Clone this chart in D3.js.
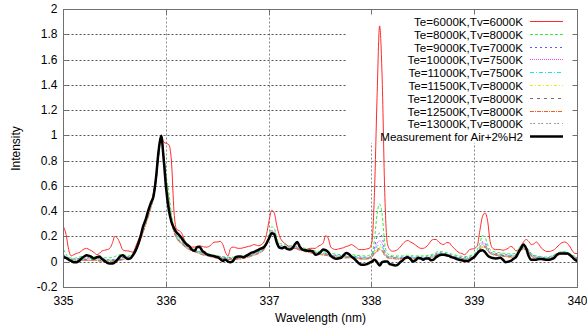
<!DOCTYPE html>
<html>
<head>
<meta charset="utf-8">
<script src="https://cdn.jsdelivr.net/npm/d3@7"></script>
<style>
  html, body { margin: 0; padding: 0; background: #fff; }
  svg { display: block; font-family: "Liberation Sans", Arial, sans-serif; }
</style>
</head>
<body>
<svg id="chart" width="587" height="329"></svg>
<script>
// measured + Te=6000K trace, sampled every 0.025 nm
const wlFine = [
  335.000,335.025,335.050,335.075,335.100,335.125,335.150,335.175,335.200,335.225,335.250,335.275,335.300,335.325,335.350,335.375,335.400,335.425,335.450,335.475,
  335.500,335.525,335.550,335.575,335.600,335.625,335.650,335.675,335.700,335.725,335.750,335.775,335.800,335.825,335.850,335.875,335.900,335.925,335.950,335.975,
  336.000,336.025,336.050,336.075,336.100,336.125,336.150,336.175,336.200,336.225,336.250,336.275,336.300,336.325,336.350,336.375,336.400,336.425,336.450,336.475,
  336.500,336.525,336.550,336.575,336.600,336.625,336.650,336.675,336.700,336.725,336.750,336.775,336.800,336.825,336.850,336.875,336.900,336.925,336.950,336.975,
  337.000,337.025,337.050,337.075,337.100,337.125,337.150,337.175,337.200,337.225,337.250,337.275,337.300,337.325,337.350,337.375,337.400,337.425,337.450,337.475,
  337.500,337.525,337.550,337.575,337.600,337.625,337.650,337.675,337.700,337.725,337.750,337.775,337.800,337.825,337.850,337.875,337.900,337.925,337.950,337.975,
  338.000,338.025,338.050,338.075,338.100,338.125,338.150,338.175,338.200,338.225,338.250,338.275,338.300,338.325,338.350,338.375,338.400,338.425,338.450,338.475,
  338.500,338.525,338.550,338.575,338.600,338.625,338.650,338.675,338.700,338.725,338.750,338.775,338.800,338.825,338.850,338.875,338.900,338.925,338.950,338.975,
  339.000,339.025,339.050,339.075,339.100,339.125,339.150,339.175,339.200,339.225,339.250,339.275,339.300,339.325,339.350,339.375,339.400,339.425,339.450,339.475,
  339.500,339.525,339.550,339.575,339.600,339.625,339.650,339.675,339.700,339.725,339.750,339.775,339.800,339.825,339.850,339.875,339.900,339.925,339.950,339.975,
  340.000
];

const measured = [
  0.04,0.035,0.02,0.01,0.0,0.0,0.01,0.03,0.045,0.055,0.05,0.04,0.03,0.04,0.045,0.025,0.01,-0.005,-0.01,-0.01,
  0.0,0.02,0.045,0.055,0.04,0.025,0.03,0.055,0.09,0.14,0.205,0.285,0.34,0.41,0.47,0.52,0.67,0.88,1.0,0.81,
  0.57,0.41,0.32,0.27,0.235,0.215,0.19,0.16,0.14,0.125,0.10,0.09,0.12,0.12,0.09,0.075,0.06,0.055,0.05,0.045,
  0.04,0.025,0.01,0.02,0.005,0.0,0.01,0.04,0.045,0.045,0.04,0.05,0.06,0.075,0.08,0.09,0.10,0.11,0.12,0.15,
  0.19,0.23,0.22,0.155,0.115,0.11,0.12,0.105,0.10,0.11,0.14,0.16,0.12,0.10,0.095,0.09,0.09,0.085,0.06,0.065,
  0.08,0.10,0.095,0.08,0.05,0.035,0.027,0.03,0.035,0.055,0.074,0.065,0.045,0.03,0.01,-0.01,-0.02,-0.02,-0.015,-0.005,
  0.005,0.02,0.0,-0.025,0.0,0.005,0.005,-0.015,-0.02,-0.025,-0.02,0.0,0.015,0.035,0.04,0.025,0.005,0.015,0.035,0.03,
  0.02,0.03,0.03,0.015,0.02,0.04,0.053,0.06,0.06,0.055,0.05,0.04,0.035,0.025,0.02,0.015,0.01,0.01,0.015,0.03,
  0.045,0.07,0.09,0.095,0.08,0.055,0.04,0.033,0.03,0.032,0.035,0.02,0.0,0.005,0.01,0.025,0.04,0.075,0.11,0.14,
  0.11,0.05,0.02,0.02,0.02,0.025,0.025,0.022,0.02,0.02,0.025,0.035,0.06,0.07,0.069,0.069,0.07,0.06,0.04,0.02,
  0.01
];

const te6000 = [
  0.28,0.22,0.10,0.05,0.06,0.07,0.075,0.09,0.105,0.11,0.10,0.09,0.075,0.06,0.07,0.09,0.095,0.10,0.11,0.15,
  0.205,0.19,0.15,0.10,0.09,0.09,0.085,0.08,0.12,0.17,0.22,0.27,0.33,0.40,0.46,0.55,0.68,0.88,1.0,0.95,
  0.94,0.93,0.80,0.40,0.26,0.25,0.23,0.18,0.14,0.12,0.12,0.12,0.125,0.13,0.125,0.12,0.12,0.13,0.15,0.16,
  0.16,0.165,0.14,0.08,0.05,0.11,0.12,0.115,0.11,0.11,0.115,0.12,0.125,0.13,0.14,0.135,0.13,0.14,0.16,0.22,
  0.33,0.41,0.39,0.29,0.21,0.17,0.15,0.135,0.12,0.11,0.11,0.105,0.10,0.10,0.10,0.105,0.11,0.11,0.11,0.125,
  0.135,0.15,0.21,0.19,0.12,0.105,0.10,0.105,0.11,0.115,0.125,0.13,0.14,0.13,0.115,0.10,0.10,0.10,0.105,0.11,
  0.16,0.55,1.30,1.87,1.45,0.55,0.15,0.10,0.087,0.09,0.10,0.12,0.145,0.165,0.172,0.16,0.15,0.135,0.12,0.11,
  0.11,0.12,0.14,0.17,0.18,0.18,0.16,0.145,0.14,0.155,0.155,0.13,0.11,0.09,0.075,0.069,0.06,0.075,0.10,0.105,
  0.11,0.13,0.25,0.36,0.39,0.33,0.165,0.11,0.10,0.10,0.10,0.095,0.10,0.11,0.125,0.115,0.09,0.10,0.13,0.16,
  0.18,0.165,0.14,0.145,0.16,0.14,0.11,0.095,0.085,0.085,0.09,0.10,0.12,0.14,0.155,0.16,0.15,0.125,0.09,0.07,
  0.069
];

// the other model runs: 0.05 nm steps, finer around the lines
const wlModel = [
  335.00,335.05,335.10,335.15,335.20,335.25,335.30,335.35,335.40,335.45,335.50,335.55,335.60,335.65,335.70,335.75,335.80,335.85,
  335.875,335.90,335.925,335.95,335.975,336.00,336.025,336.05,336.075,336.10,
  336.15,336.20,336.25,336.30,336.35,336.40,336.45,336.50,336.55,336.60,336.65,336.70,336.75,336.80,336.85,336.90,336.95,
  336.975,337.00,337.025,337.05,337.075,337.10,
  337.15,337.20,337.25,337.30,337.35,337.40,337.45,337.50,337.55,337.60,337.65,337.70,337.75,337.80,337.85,337.90,337.95,
  337.975,338.00,338.025,338.05,338.075,338.10,338.125,338.15,
  338.20,338.25,338.30,338.35,338.40,338.45,338.50,338.55,338.60,338.65,338.70,338.75,338.80,338.85,338.90,338.95,339.00,
  339.025,339.05,339.075,339.10,339.125,339.15,
  339.20,339.25,339.30,339.35,339.40,339.45,339.50,339.55,339.60,339.65,339.70,339.75,339.80,339.85,339.90,339.95,340.00
];

const te8000 = [
  0.10,0.04,0.03,0.04,0.05,0.05,0.045,0.04,0.035,0.035,0.045,0.06,0.055,0.05,0.10,0.20,0.32,0.45,
  0.53,0.66,0.86,1.00,0.86,0.68,0.55,0.38,0.27,0.22,
  0.17,0.13,0.11,0.09,0.08,0.07,0.06,0.05,0.045,0.04,0.04,0.045,0.05,0.06,0.075,0.09,0.12,
  0.16,0.22,0.28,0.27,0.19,0.15,
  0.14,0.13,0.14,0.12,0.11,0.10,0.09,0.085,0.08,0.07,0.065,0.06,0.06,0.06,0.055,0.05,0.05,
  0.055,0.07,0.18,0.38,0.46,0.38,0.15,0.07,
  0.05,0.05,0.05,0.055,0.05,0.05,0.05,0.055,0.065,0.085,0.08,0.07,0.06,0.05,0.045,0.05,0.07,
  0.10,0.15,0.21,0.20,0.14,0.10,
  0.08,0.075,0.07,0.065,0.07,0.13,0.12,0.07,0.05,0.045,0.04,0.05,0.07,0.085,0.08,0.055,0.04
];

const te9000 = [
  0.06,0.035,0.025,0.03,0.035,0.035,0.035,0.03,0.025,0.02,0.025,0.035,0.04,0.045,0.095,0.195,0.315,0.445,
  0.525,0.655,0.855,1.00,0.845,0.645,0.485,0.335,0.255,0.205,
  0.16,0.125,0.105,0.09,0.075,0.065,0.055,0.045,0.04,0.035,0.035,0.04,0.045,0.055,0.07,0.085,0.115,
  0.15,0.205,0.25,0.245,0.175,0.135,
  0.125,0.12,0.125,0.11,0.10,0.09,0.08,0.075,0.07,0.06,0.055,0.05,0.05,0.05,0.045,0.04,0.04,
  0.04,0.055,0.12,0.20,0.23,0.20,0.09,0.05,
  0.045,0.04,0.04,0.045,0.04,0.04,0.04,0.045,0.055,0.075,0.07,0.06,0.05,0.04,0.035,0.04,0.06,
  0.085,0.12,0.16,0.155,0.115,0.08,
  0.07,0.065,0.06,0.055,0.06,0.115,0.115,0.065,0.045,0.04,0.035,0.045,0.065,0.08,0.075,0.05,0.035
];

const te10000 = [
  0.05,0.03,0.02,0.025,0.03,0.03,0.03,0.025,0.02,0.015,0.02,0.03,0.035,0.04,0.09,0.19,0.31,0.44,
  0.52,0.65,0.85,1.00,0.84,0.64,0.48,0.33,0.25,0.20,
  0.155,0.12,0.10,0.085,0.07,0.06,0.05,0.04,0.035,0.03,0.03,0.035,0.04,0.05,0.065,0.08,0.11,
  0.15,0.20,0.245,0.24,0.17,0.13,
  0.12,0.115,0.12,0.105,0.095,0.085,0.075,0.07,0.065,0.055,0.05,0.045,0.045,0.045,0.04,0.035,0.035,
  0.04,0.05,0.10,0.15,0.17,0.15,0.08,0.05,
  0.04,0.035,0.035,0.04,0.035,0.035,0.035,0.04,0.05,0.07,0.065,0.055,0.045,0.035,0.03,0.035,0.055,
  0.08,0.115,0.15,0.145,0.11,0.08,
  0.065,0.06,0.055,0.05,0.055,0.11,0.11,0.06,0.04,0.035,0.03,0.04,0.06,0.075,0.07,0.045,0.03
];

const te11000 = [
  0.045,0.03,0.02,0.02,0.025,0.03,0.025,0.025,0.02,0.015,0.02,0.025,0.035,0.04,0.09,0.19,0.31,0.44,
  0.52,0.65,0.85,1.00,0.84,0.64,0.48,0.33,0.25,0.20,
  0.155,0.12,0.10,0.085,0.07,0.06,0.05,0.04,0.035,0.03,0.03,0.035,0.04,0.05,0.065,0.08,0.11,
  0.15,0.20,0.24,0.235,0.17,0.13,
  0.12,0.115,0.12,0.105,0.095,0.085,0.075,0.07,0.065,0.055,0.05,0.045,0.045,0.045,0.04,0.035,0.035,
  0.04,0.05,0.09,0.125,0.14,0.125,0.07,0.045,
  0.04,0.035,0.035,0.04,0.035,0.035,0.035,0.04,0.05,0.07,0.065,0.055,0.045,0.035,0.03,0.035,0.055,
  0.08,0.11,0.14,0.135,0.105,0.075,
  0.065,0.06,0.055,0.05,0.055,0.11,0.11,0.06,0.04,0.035,0.03,0.04,0.06,0.075,0.07,0.045,0.03
];

const te11500 = [
  0.04,0.025,0.015,0.015,0.02,0.025,0.02,0.02,0.015,0.01,0.015,0.02,0.03,0.035,0.085,0.185,0.305,0.435,
  0.515,0.645,0.845,1.00,0.835,0.635,0.475,0.325,0.245,0.195,
  0.15,0.115,0.095,0.08,0.065,0.055,0.045,0.035,0.03,0.025,0.025,0.03,0.035,0.045,0.06,0.075,0.105,
  0.145,0.195,0.235,0.23,0.165,0.125,
  0.115,0.11,0.115,0.10,0.09,0.08,0.07,0.065,0.06,0.05,0.045,0.04,0.04,0.04,0.035,0.03,0.03,
  0.035,0.045,0.08,0.11,0.12,0.11,0.065,0.04,
  0.035,0.03,0.03,0.035,0.03,0.03,0.03,0.035,0.045,0.065,0.06,0.05,0.04,0.03,0.025,0.03,0.05,
  0.075,0.105,0.135,0.13,0.10,0.075,
  0.06,0.055,0.05,0.045,0.05,0.105,0.105,0.055,0.035,0.03,0.025,0.035,0.055,0.07,0.065,0.04,0.025
];

const te12000 = [
  0.04,0.025,0.015,0.015,0.02,0.02,0.02,0.015,0.01,0.01,0.015,0.02,0.03,0.035,0.085,0.185,0.305,0.435,
  0.515,0.645,0.845,1.00,0.835,0.635,0.475,0.325,0.245,0.195,
  0.15,0.115,0.095,0.08,0.065,0.055,0.045,0.035,0.03,0.025,0.025,0.03,0.035,0.045,0.06,0.075,0.105,
  0.145,0.195,0.235,0.23,0.165,0.125,
  0.115,0.11,0.115,0.10,0.09,0.08,0.07,0.065,0.06,0.05,0.045,0.04,0.04,0.04,0.035,0.03,0.03,
  0.035,0.045,0.075,0.10,0.11,0.10,0.06,0.04,
  0.035,0.03,0.03,0.035,0.03,0.03,0.03,0.035,0.045,0.065,0.06,0.05,0.04,0.03,0.025,0.03,0.05,
  0.075,0.10,0.13,0.125,0.10,0.07,
  0.06,0.055,0.05,0.045,0.05,0.105,0.105,0.055,0.035,0.03,0.025,0.035,0.055,0.07,0.065,0.04,0.025
];

const te12500 = [
  0.035,0.02,0.01,0.01,0.015,0.015,0.015,0.01,0.005,0.005,0.01,0.015,0.025,0.03,0.08,0.18,0.30,0.43,
  0.51,0.64,0.84,1.00,0.83,0.63,0.47,0.32,0.24,0.19,
  0.145,0.11,0.09,0.075,0.06,0.05,0.04,0.03,0.025,0.02,0.02,0.025,0.03,0.04,0.055,0.07,0.10,
  0.14,0.19,0.23,0.225,0.16,0.12,
  0.11,0.105,0.11,0.095,0.085,0.075,0.065,0.06,0.055,0.045,0.04,0.035,0.035,0.035,0.03,0.025,0.025,
  0.03,0.04,0.07,0.09,0.10,0.09,0.055,0.035,
  0.03,0.025,0.025,0.03,0.025,0.025,0.025,0.03,0.04,0.06,0.055,0.045,0.035,0.025,0.02,0.025,0.045,
  0.07,0.10,0.12,0.12,0.095,0.07,
  0.055,0.05,0.045,0.04,0.045,0.10,0.10,0.05,0.03,0.025,0.02,0.03,0.05,0.065,0.06,0.035,0.02
];

const te13000 = [
  0.035,0.02,0.01,0.01,0.015,0.015,0.015,0.01,0.005,0.005,0.01,0.015,0.025,0.03,0.08,0.18,0.30,0.43,
  0.51,0.64,0.84,1.00,0.83,0.63,0.47,0.32,0.24,0.19,
  0.145,0.11,0.09,0.075,0.06,0.05,0.04,0.03,0.025,0.02,0.02,0.025,0.03,0.04,0.055,0.07,0.10,
  0.14,0.19,0.225,0.22,0.16,0.12,
  0.11,0.105,0.11,0.095,0.085,0.075,0.065,0.06,0.055,0.045,0.04,0.035,0.035,0.035,0.03,0.025,0.025,
  0.03,0.04,0.065,0.085,0.09,0.085,0.05,0.035,
  0.03,0.025,0.025,0.03,0.025,0.025,0.025,0.03,0.04,0.06,0.055,0.045,0.035,0.025,0.02,0.025,0.045,
  0.07,0.095,0.12,0.115,0.09,0.07,
  0.055,0.05,0.045,0.04,0.045,0.10,0.10,0.05,0.03,0.025,0.02,0.03,0.05,0.065,0.06,0.035,0.02
];

const xTicks = [335, 336, 337, 338, 339, 340];
const xTickLabels = ["335", "336", "337", "338", "339", "340"];
const yTicks = [-0.2, 0, 0.2, 0.4, 0.6, 0.8, 1, 1.2, 1.4, 1.6, 1.8, 2];
const yTickLabels = ["-0.2", "0", "0.2", "0.4", "0.6", "0.8", "1", "1.2", "1.4", "1.6", "1.8", "2"];

const seriesNames = [
  "Te=6000K,Tv=6000K", "Te=8000K,Tv=8000K", "Te=9000K,Tv=7000K", "Te=10000K,Tv=7500K",
  "Te=11000K,Tv=7500K", "Te=11500K,Tv=8000K", "Te=12000K,Tv=8000K", "Te=12500K,Tv=8000K",
  "Te=13000K,Tv=8000K", "Measurement for Air+2%H2"
];
const seriesX = [wlFine, wlModel, wlModel, wlModel, wlModel, wlModel, wlModel, wlModel, wlModel, wlFine];
const seriesY = [te6000, te8000, te9000, te10000, te11000, te11500, te12000, te12500, te13000, measured];

// line styles, gnuplot-ish
const styles = [
  { color: "#ff2a2a", width: 1, dash: null },
  { color: "#33ee33", width: 1, dash: "3,2" },
  { color: "#5a5aff", width: 1, dash: "2,3" },
  { color: "#ff44ff", width: 1, dash: "1,1" },
  { color: "#11e8f0", width: 1, dash: "4,2,1,2" },
  { color: "#eeee00", width: 1, dash: "3,2,1,2" },
  { color: "#707070", width: 1, dash: "3,4" },
  { color: "#ff5a20", width: 1, dash: "4,1,1,1" },
  { color: "#a0a0a0", width: 1, dash: "2,1,2,3" },
  { color: "#000000", width: 2.5, dash: null }
];

const plotL = 63.5, plotR = 577.5, plotT = 9.5, plotB = 287.5;

const svg = d3.select("#chart");

const x = d3.scaleLinear().domain([335, 340]).range([plotL, plotR]);
const y = d3.scaleLinear().domain([-0.2, 2]).range([plotB, plotT]);

const px = v => Math.round(x(v) - 0.5) + 0.5;
const py = v => Math.round(y(v) - 0.5) + 0.5;

// grid
const grid = svg.append("g").attr("stroke", "#555").attr("stroke-width", 1).attr("stroke-dasharray", "2,2");
grid.selectAll("line.gx")
  .data(xTicks.slice(1, -1))
  .enter().append("line")
  .attr("stroke", "#888")
  .attr("x1", d => px(d)).attr("x2", d => px(d))
  .attr("y1", plotT).attr("y2", plotB);
grid.selectAll("line.gy")
  .data(yTicks.slice(1, -1))
  .enter().append("line")
  .attr("x1", plotL).attr("x2", plotR)
  .attr("y1", d => py(d)).attr("y2", d => py(d));

// key background hides the grid behind it
const keyBox = { x0: 346, y0: plotT, x1: plotR, y1: 143 };
svg.append("rect")
  .attr("x", keyBox.x0).attr("y", keyBox.y0)
  .attr("width", keyBox.x1 - keyBox.x0).attr("height", keyBox.y1 - keyBox.y0)
  .attr("fill", "#fff");

// curves
svg.append("clipPath").attr("id", "plotclip")
  .append("rect").attr("x", plotL).attr("y", plotT).attr("width", plotR - plotL).attr("height", plotB - plotT);

const line = d3.line()
  .x(d => x(d[0]))
  .y(d => y(d[1]))
  .curve(d3.curveMonotoneX);

const curves = svg.append("g").attr("clip-path", "url(#plotclip)");
seriesY.forEach((vals, i) => {
  const pts = vals.map((v, j) => [seriesX[i][j], v]);
  curves.append("path")
    .datum(pts)
    .attr("d", line)
    .attr("fill", "none")
    .attr("stroke", styles[i].color)
    .attr("stroke-width", styles[i].width)
    .attr("stroke-dasharray", styles[i].dash)
    .attr("stroke-linejoin", "round");
});

// axes: inward ticks on all four sides
const tickLen = 5;
const axisColor = "#707070";

const xAxis = d3.axisBottom(x)
  .tickValues(xTicks)
  .tickFormat((d, i) => xTickLabels[i])
  .tickSizeInner(-tickLen).tickSizeOuter(0).tickPadding(9);
const gx = svg.append("g").attr("transform", `translate(0,${plotB})`).call(xAxis);

const yAxis = d3.axisLeft(y)
  .tickValues(yTicks)
  .tickFormat((d, i) => yTickLabels[i])
  .tickSizeInner(-tickLen).tickSizeOuter(0).tickPadding(6);
const gy = svg.append("g").attr("transform", `translate(${plotL},0)`).call(yAxis);

const gxTop = svg.append("g").attr("transform", `translate(0,${plotT})`)
  .call(d3.axisTop(x).tickValues(xTicks).tickFormat("").tickSizeInner(-tickLen).tickSizeOuter(0));
const gyRight = svg.append("g").attr("transform", `translate(${plotR},0)`)
  .call(d3.axisRight(y).tickValues(yTicks).tickFormat("").tickSizeInner(-tickLen).tickSizeOuter(0));

[gx, gy, gxTop, gyRight].forEach(g => {
  g.select(".domain").remove();
  g.selectAll(".tick line").attr("stroke", axisColor);
  g.selectAll(".tick text")
    .attr("fill", "#000")
    .style("font-size", "12px")
    .style("font-family", "'Liberation Sans', Arial, sans-serif");
});
gx.selectAll(".tick").attr("transform", d => `translate(${px(d)},0)`);
gy.selectAll(".tick").attr("transform", d => `translate(0,${py(d)})`);
gxTop.selectAll(".tick").attr("transform", d => `translate(${px(d)},0)`);
gyRight.selectAll(".tick").attr("transform", d => `translate(0,${py(d)})`);

// frame
svg.append("rect")
  .attr("x", plotL).attr("y", plotT)
  .attr("width", plotR - plotL).attr("height", plotB - plotT)
  .attr("fill", "none").attr("stroke", axisColor).attr("stroke-width", 1);

// axis titles
svg.append("text")
  .attr("x", (plotL + plotR) / 2).attr("y", 322)
  .attr("text-anchor", "middle")
  .style("font-size", "12px")
  .text("Wavelength (nm)");

svg.append("text")
  .attr("transform", `translate(20,${(plotT + plotB) / 2}) rotate(-90)`)
  .attr("text-anchor", "middle")
  .style("font-size", "12px")
  .text("Intensity");

// key
const keyTextX = 523, keyLineX0 = 530, keyLineX1 = 563, keyY0 = 21, keyStep = 12.8;
const key = svg.append("g");
seriesNames.forEach((name, i) => {
  const yy = Math.round(keyY0 + i * keyStep) + 0.5;
  key.append("text")
    .attr("x", keyTextX).attr("y", yy)
    .attr("dy", "0.35em")
    .attr("text-anchor", "end")
    .style("font-size", "11.6px")
    .text(name);
  key.append("line")
    .attr("x1", keyLineX0).attr("x2", keyLineX1)
    .attr("y1", yy).attr("y2", yy)
    .attr("stroke", styles[i].color)
    .attr("stroke-width", styles[i].width)
    .attr("stroke-dasharray", styles[i].dash);
});
</script>
</body>
</html>
